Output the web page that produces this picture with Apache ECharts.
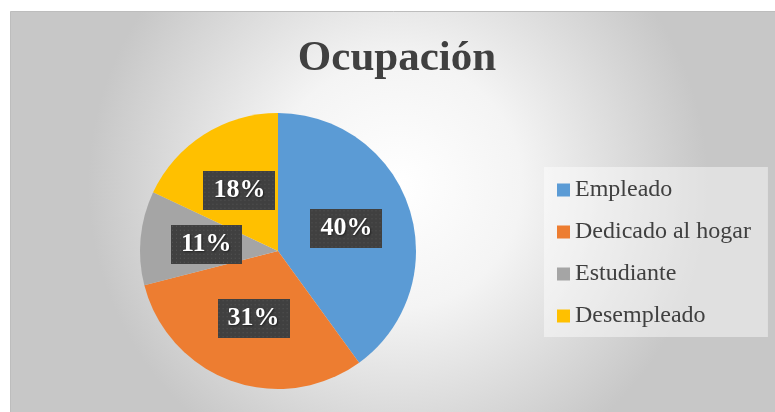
<!DOCTYPE html>
<html>
<head>
<meta charset="utf-8">
<script src="https://cdn.jsdelivr.net/npm/echarts@6/dist/echarts.min.js"></script>
<style>
html,body{margin:0;padding:0;background:#fff;}
#chart{width:775px;height:412px;}
</style>
</head>
<body>
<div id="chart"></div>
<script>
var titleText = 'Ocupación';
var categories = ['Empleado', 'Dedicado al hogar', 'Estudiante', 'Desempleado'];
var values = [40, 31, 11, 18];
var colors = ['#5B9BD5', '#ED7D31', '#A5A5A5', '#FFC000'];

function makePattern(w, h) {
  var c = document.createElement('canvas');
  c.width = w; c.height = h;
  var ctx = c.getContext('2d');
  ctx.fillStyle = '#404040';
  ctx.fillRect(0, 0, w, h);
  ctx.fillStyle = '#575757';
  for (var y = 1; y < h; y += 4) {
    for (var x = 1; x < w; x += 4) {
      ctx.fillRect(x, y, 1, 1);
    }
  }
  return c;
}
var pattern = makePattern(72, 39);

var chart = echarts.init(document.getElementById('chart'));
var serif = '"Liberation Serif", "Times New Roman", serif';
chart.setOption({
  animation: false,
  graphic: [{
    type: 'rect',
    z: -10,
    silent: true,
    shape: { x: 10.5, y: 11.5, width: 775, height: 412 },
    style: {
      fill: {
        type: 'radial', x: 0.5, y: 0.42, r: 0.75, global: false,
        colorStops: [{ offset: 0, color: '#ffffff' }, { offset: 0.4, color: '#f4f4f4' }, { offset: 1, color: '#c7c7c7' }]
      },
      stroke: '#bdbdbd',
      lineWidth: 1
    }
  }],
  title: {
    text: titleText,
    left: 397,
    textAlign: 'center',
    top: 37,
    padding: 0,
    textStyle: { fontFamily: serif, fontSize: 43, fontWeight: 'bold', color: '#404040' }
  },
  legend: {
    orient: 'vertical',
    left: 544,
    top: 167,
    padding: [10, 17, 8, 13],
    backgroundColor: 'rgba(255,255,255,0.45)',
    itemWidth: 13,
    itemHeight: 13,
    itemGap: 16,
    icon: 'rect',
    data: categories,
    textStyle: { fontFamily: serif, fontSize: 24, color: '#404040', lineHeight: 26 }
  },
  series: [{
    type: 'pie',
    center: [278, 251],
    radius: [0, 138],
    startAngle: 90,
    clockwise: true,
    color: colors,
    data: categories.map(function (c, i) { return { name: c, value: values[i] }; }),
    label: {
      show: true,
      position: 'inside',
      formatter: function (p) { return p.value + '%'; },
      fontFamily: serif,
      fontSize: 26,
      fontWeight: 'bold',
      color: '#ffffff',
      overflow: 'none',
      lineHeight: 29,
      padding: [5, 10],
      backgroundColor: { image: pattern },
      shadowColor: 'rgba(0,0,0,0.45)',
      shadowBlur: 5,
      shadowOffsetX: 2,
      shadowOffsetY: 2,
      textShadowColor: 'rgba(0,0,0,0.5)',
      textShadowBlur: 2,
      textShadowOffsetX: 1,
      textShadowOffsetY: 1
    },
    labelLine: { show: false },
    emphasis: { disabled: true }
  }]
});
</script>
</body>
</html>
